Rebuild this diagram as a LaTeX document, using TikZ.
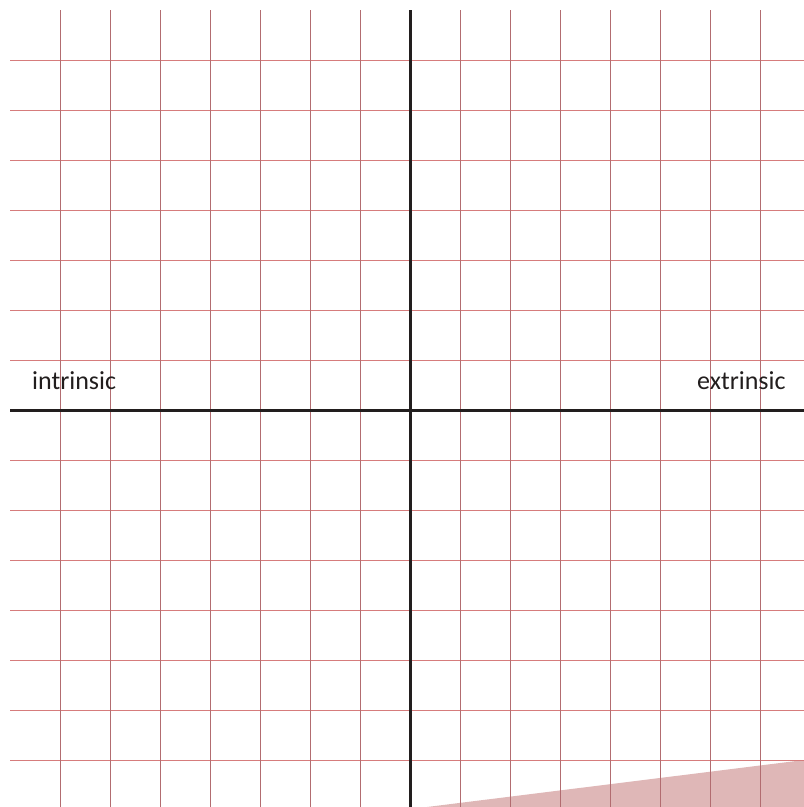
\documentclass[tikz,border=0pt]{standalone}
\usepackage{fontspec}
\setmainfont{Carlito}
\definecolor{vgrid}{RGB}{178,108,112}
\definecolor{hgrid}{RGB}{214,124,124}
\definecolor{axis}{RGB}{34,30,30}
\definecolor{wedge}{RGB}{223,183,183}
\begin{document}
\begin{tikzpicture}[x=1pt,y=-1pt,
  vline/.style={draw=vgrid,line width=1pt},
  hline/.style={draw=hgrid,line width=1pt},
  axisline/.style={draw=axis,line width=3pt},
  lbl/.style={font=\fontsize{26}{30}\selectfont,text=axis,inner sep=0pt,anchor=base west}]
\useasboundingbox (0,0) rectangle (804,807);
\fill[wedge] (427,807) -- (804,760) -- (804,807) -- cycle;
\foreach \y in {60,110,...,360,460,510,...,760}
  \draw[hline] (10,\y) -- (804,\y);
\foreach \x in {60,110,...,360,460,510,...,760}
  \draw[vline] (\x,10) -- (\x,807);
\draw[axisline] (10,410) -- (804,410);
\draw[axisline] (410,10) -- (410,807);
\node[lbl] (intr) at (32,389) {intrinsic};
\node[lbl] (extr) at (697,389) {extrinsic};
\end{tikzpicture}
\end{document}
